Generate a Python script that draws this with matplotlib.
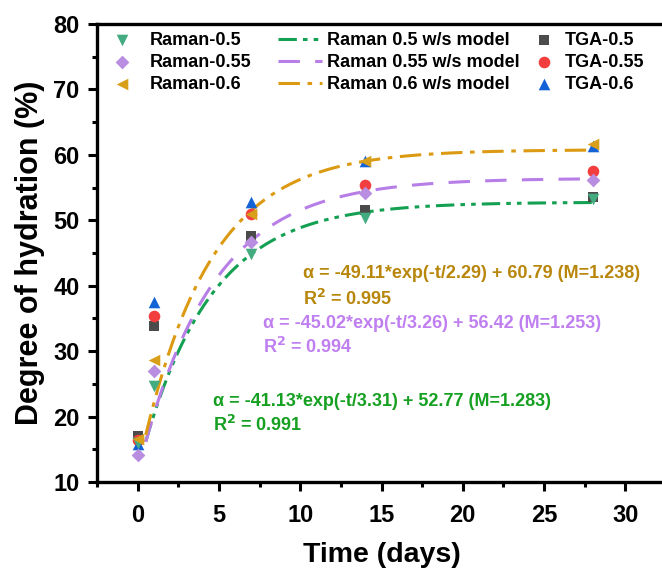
import numpy as np
import matplotlib
matplotlib.use("Agg")
import matplotlib.pyplot as plt

plt.rcParams['font.family'] = ['Liberation Sans', 'DejaVu Sans']
plt.rcParams['font.weight'] = 'bold'
plt.rcParams['mathtext.default'] = 'bf'

# Curing ages (days)
days = [0, 1, 7, 14, 28]

# Degree of hydration (%) measured by Raman
raman_05 = [16.0, 24.6, 44.9, 50.4, 53.3]
raman_055 = [14.2, 27.0, 46.7, 54.1, 56.1]
raman_06 = [16.5, 28.7, 51.0, 59.0, 61.7]

# Degree of hydration (%) measured by TGA
tga_05 = [17.0, 33.8, 47.6, 51.5, 53.6]
tga_055 = [16.4, 35.4, 51.0, 55.4, 57.5]
tga_06 = [15.8, 37.5, 52.8, 59.0, 61.3]

# w/s model parameters: amplitude, plateau, fitted time constant, M, R^2
model_names = ["Raman 0.5 w/s model", "Raman 0.55 w/s model", "Raman 0.6 w/s model"]
model_amp = [41.13, 45.02, 49.11]
model_plateau = [52.77, 56.42, 60.79]
model_tau_fit = [3.31, 3.26, 2.29]
model_M = [1.283, 1.253, 1.238]
model_R2 = [0.991, 0.994, 0.995]
# time constant of the plotted model curves (days) and curve time span
model_tau_curve = [4.25, 4.5, 4.2]
curve_t_start, curve_t_end = 0.5, 28

W, H = 662, 568
fig = plt.figure(figsize=(W / 100, H / 100), dpi=100)
ax = fig.add_axes([97 / W, 1 - 482 / H, (666 - 97) / W, (482 - 24) / H])

c_green_m, c_purple_m, c_orange_m = '#42ab7f', '#b98ee0', '#d8a01a'
c_green_l, c_purple_l, c_orange_l = '#14a052', '#b67ee6', '#dc9a12'
c_green_t, c_purple_t, c_orange_t = '#16a021', '#c07ff0', '#b8860b'

line_styles = [(0, (6, 2, 1.5, 2, 1.5, 2)), (0, (7, 5)), (0, (7, 2.5, 1.5, 2.5))]
line_colors = [c_green_l, c_purple_l, c_orange_l]

t = np.linspace(curve_t_start, curve_t_end, 300)
model_lines = []
for name, a, b, tau, ls, col in zip(model_names, model_amp, model_plateau,
                                     model_tau_curve, line_styles, line_colors):
    ln, = ax.plot(t, b - a * np.exp(-t / tau), ls=ls, color=col, lw=2.2,
                  label=name, zorder=2)
    model_lines.append(ln)

ms = 70
tga_handles = [
    ax.scatter(days, tga_05, marker='s', s=ms * 0.8, color='#4b4b4b', label='TGA-0.5', zorder=3, lw=0),
    ax.scatter(days, tga_055, marker='o', s=ms, color='#f23e3e', label='TGA-0.55', zorder=3, lw=0),
    ax.scatter(days, tga_06, marker='^', s=ms, color='#1463d6', label='TGA-0.6', zorder=3, lw=0),
]
raman_handles = [
    ax.scatter(days, raman_05, marker='v', s=ms, color=c_green_m, label='Raman-0.5', zorder=4, lw=0),
    ax.scatter(days, raman_055, marker='D', s=ms * 0.7, color=c_purple_m, label='Raman-0.55', zorder=4, lw=0),
    ax.scatter(days, raman_06, marker='<', s=ms, color=c_orange_m, label='Raman-0.6', zorder=4, lw=0),
]

ax.set_xlim(-2.5, 32.5)
ax.set_ylim(10, 80)
ax.set_xticks(range(0, 31, 5))
ax.set_xticks(np.arange(-2.5, 32.6, 2.5), minor=True)
ax.set_yticks(range(10, 81, 10))
ax.set_yticks(range(10, 81, 5), minor=True)
ax.tick_params(which='major', direction='out', length=6.5, width=2.2,
               labelsize=17, pad=6)
ax.tick_params(which='minor', direction='out', length=3.5, width=2.2)
ax.tick_params(axis='x', pad=9)
ax.spines['right'].set_visible(False)
for s in ['left', 'bottom', 'top']:
    ax.spines[s].set_linewidth(2.4)

ax.set_xlabel('Time (days)', fontsize=20.5, fontweight='bold', labelpad=11)
ax.set_ylabel('Degree of hydration (%)', fontsize=22, fontweight='bold', labelpad=6)

# Legends: three columns
fs = 13
top_y = 1 - 32 / H
common = dict(loc='upper left', frameon=False, labelspacing=0.28,
              borderpad=0, borderaxespad=0, prop={'weight': 'bold', 'size': fs})
fig.legend(handles=raman_handles, bbox_to_anchor=(111 / W, top_y),
           handlelength=1.2, handletextpad=0.95, **common)
fig.legend(handles=model_lines, bbox_to_anchor=(278 / W, top_y),
           handlelength=2.45, handletextpad=0.25, **common)
fig.legend(handles=tga_handles, bbox_to_anchor=(535 / W, top_y),
           handlelength=1.0, handletextpad=0.65, **common)

# Model equations
text_pos = [(213, 401), (263, 324), (303, 274)]
r2_gap = [24, 23, 25]
text_cols = [c_green_t, c_purple_t, c_orange_t]
for a, b, tau, M, r2, (px, py), gap, col in zip(model_amp, model_plateau, model_tau_fit,
                                               model_M, model_R2, text_pos, r2_gap, text_cols):
    fig.text(px / W, 1 - py / H,
             f'α = -{a:.2f}*exp(-t/{tau:.2f}) + {b:.2f} (M={M:.3f})',
             color=col, fontsize=fs, fontweight='bold', va='center', ha='left')
    fig.text(px / W, 1 - (py + gap) / H, f'R$^2$ = {r2:.3f}',
             color=col, fontsize=fs, fontweight='bold', va='center', ha='left')

fig.savefig('out.png', dpi=100)
